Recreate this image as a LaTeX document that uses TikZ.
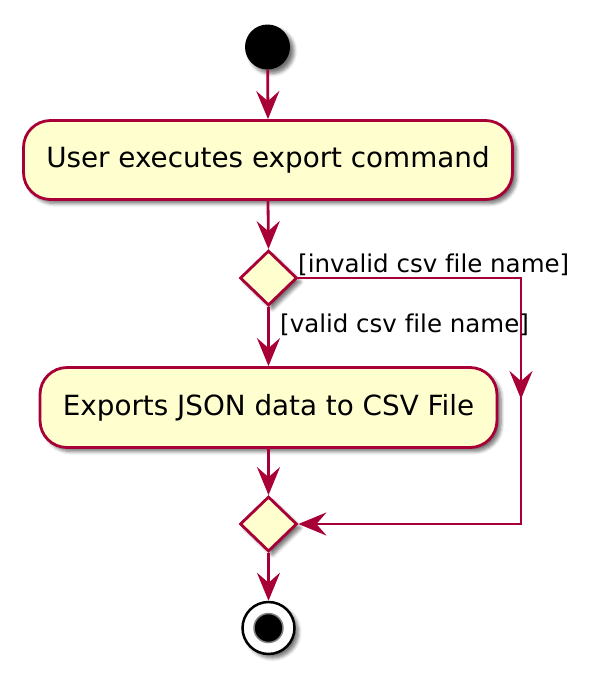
\documentclass[tikz,border=0pt]{standalone}
\usepackage{fontspec}
\setmainfont[Ligatures=NoCommon]{DejaVu Sans}
\usetikzlibrary{arrows.meta,shapes.geometric,shadows.blur}
\definecolor{pumlred}{HTML}{A80036}
\definecolor{pumlfill}{HTML}{FEFECE}
\tikzset{
  shad/.style={blur shadow={shadow xshift=4pt, shadow yshift=-4pt, shadow blur steps=6, shadow opacity=55, shadow blur radius=3.5pt}},
  actbox/.style={draw=pumlred, fill=pumlfill, line width=2.8pt, rounded corners=27pt, inner sep=0pt, font=\fontsize{27.8}{32}\selectfont, shad},
  decis/.style={diamond, draw=pumlred, fill=pumlfill, line width=2.8pt, inner sep=0pt, minimum width=57pt, minimum height=55pt, shad},
  flow/.style={draw=pumlred, line width=2.8pt, -{Stealth[length=28pt,width=23pt,inset=10pt]}},
  flowline/.style={draw=pumlred, line width=2.8pt},
  guard/.style={font=\fontsize{24.5}{29}\selectfont, inner sep=0pt}
}
\begin{document}
\begin{tikzpicture}[x=1pt,y=-1pt]
\useasboundingbox (0,0) rectangle (600,678);
\node[circle, fill=black, minimum size=45pt, inner sep=0pt, shad] (start) at (267.5,47) {};
\node[actbox, minimum width=489pt, minimum height=79pt] (act1) at (268,160) {User executes export command};
\node[decis] (d1) at (268.5,278) {};
\node[actbox, minimum width=457pt, minimum height=80pt] (act2) at (268.5,407.5) {Exports JSON data to CSV File};
\node[decis] (d2) at (268.5,524) {};
\node[circle, draw=black, fill=white, line width=2.5pt, minimum size=52pt, inner sep=0pt, shad] (stop) at (268.5,628) {};
\node[circle, draw=gray, fill=black, line width=1.5pt, minimum size=29pt, inner sep=0pt] (stopin) at (stop.center) {};
\coordinate (r1) at (521,278);
\coordinate (rm) at (521,399);
\coordinate (r2) at (521,524);
\draw[flow] (start) -- (act1.north);
\draw[flow] (act1.south) -- (d1.north);
\draw[flow] (d1.south) -- (act2.north);
\draw[flow] (act2.south) -- (d2.north);
\draw[flow] (d2.south) -- (stop.north);
\draw[flowline] (d1.east) -- (r1) -- (rm);
\draw[flow] (r1) -- (rm);
\draw[flow] (rm) -- (r2) -- (d2.east);
\node[guard, anchor=west] (ginv) at (298,265) {[invalid csv file name]};
\node[guard, anchor=west] (gval) at (280,325) {[valid csv file name]};
\end{tikzpicture}
\end{document}
